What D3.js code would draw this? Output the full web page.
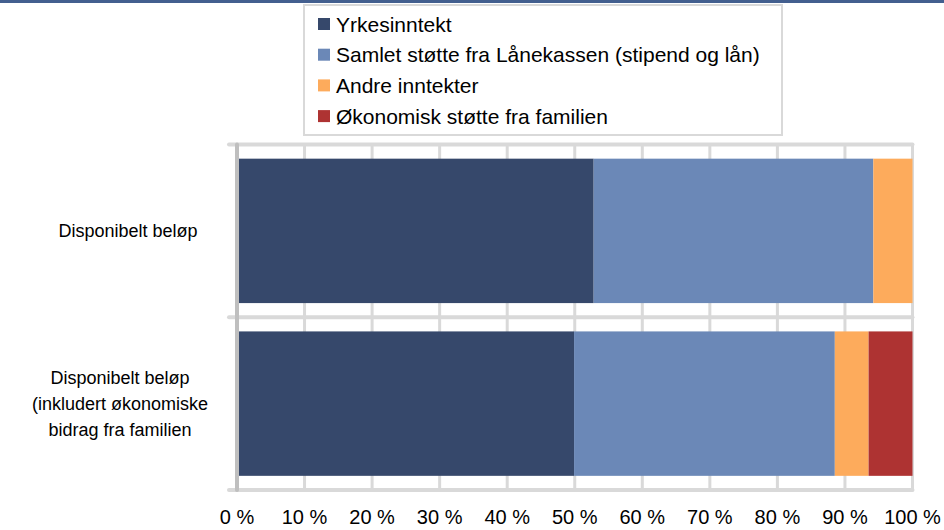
<!DOCTYPE html>
<html>
<head>
<meta charset="utf-8">
<script src="https://cdn.jsdelivr.net/npm/d3@7"></script>
<style>
  body { margin: 0; background: #fff; }
  text { font-family: "Liberation Sans", Arial, sans-serif; fill: #000; }
</style>
</head>
<body>
<div id="chart"></div>
<script>
var W = 944, H = 530;

// data
var categories = ["Disponibelt beløp", "Disponibelt beløp (inkludert økonomiske bidrag fra familien"];
var categoryLines = [
  ["Disponibelt beløp"],
  ["Disponibelt beløp", "(inkludert økonomiske", "bidrag fra familien"]
];
var seriesNames = ["Yrkesinntekt", "Samlet støtte fra Lånekassen (stipend og lån)", "Andre inntekter", "Økonomisk støtte fra familien"];
var yrkesinntekt = [52.8, 49.9];
var laanekassen = [41.4, 38.6];
var andre = [5.8, 5.0];
var familie = [0, 6.5];
var tickValues = [0, 10, 20, 30, 40, 50, 60, 70, 80, 90, 100];

var colors = ["#36486b", "#6b88b7", "#fdab5c", "#ae3332"];
var seriesValues = [yrkesinntekt, laanekassen, andre, familie];

var svg = d3.select("#chart").append("svg")
  .attr("width", W).attr("height", H);

// top band
svg.append("rect").attr("x", 0).attr("y", 0).attr("width", W).attr("height", 3)
  .attr("fill", "#435f8f");

var x = d3.scaleLinear().domain([0, 100]).range([237, 912.5]);
var yCat = d3.scaleBand().domain(categories).range([144.5, 490]);
var y = d3.scaleBand().domain(categories).range([144.5, 490])
  .paddingInner(0.164).paddingOuter(0.082);

// vertical gridlines
svg.selectAll(".vgrid").data(tickValues.slice(1)).enter().append("line")
  .attr("x1", function (d) { return x(d); }).attr("x2", function (d) { return x(d); })
  .attr("y1", 144.5).attr("y2", 490)
  .attr("stroke", "#d9d9d9").attr("stroke-width", 3).attr("stroke-linecap", "round");

// horizontal category lines
var bounds = categories.map(function (c) { return yCat(c); }).concat([490]);
svg.selectAll(".hgrid").data(bounds).enter().append("line")
  .attr("x1", 229).attr("x2", x(100))
  .attr("y1", function (d) { return d; }).attr("y2", function (d) { return d; })
  .attr("stroke", "#d9d9d9").attr("stroke-width", 4).attr("stroke-linecap", "round");

// stacked bars
var stackData = categories.map(function (c, i) {
  var o = { cat: c };
  seriesNames.forEach(function (s, j) { o[s] = seriesValues[j][i]; });
  return o;
});
var stack = d3.stack().keys(seriesNames)(stackData);

svg.selectAll(".series").data(stack).enter().append("g")
  .attr("fill", function (d, i) { return colors[i]; })
  .selectAll("rect").data(function (d) { return d; }).enter().append("rect")
  .attr("x", function (d) { return x(d[0]); })
  .attr("width", function (d) { return x(d[1]) - x(d[0]); })
  .attr("y", function (d) { return y(d.data.cat); })
  .attr("height", y.bandwidth());

// left axis line
svg.append("line").attr("x1", x(0)).attr("x2", x(0))
  .attr("y1", 144.5).attr("y2", 490)
  .attr("stroke", "#bfbfbf").attr("stroke-width", 4).attr("stroke-linecap", "round");

// x tick labels
svg.selectAll(".xlab").data(tickValues).enter().append("text")
  .attr("x", function (d) { return x(d); })
  .attr("y", 524)
  .attr("text-anchor", "middle")
  .style("font-size", "20px")
  .text(function (d) { return d + " %"; });

// category labels
var catLab = svg.selectAll(".catlab").data(categories).enter().append("text")
  .attr("text-anchor", "middle")
  .style("font-size", "18px")
  .attr("transform", function (d, i) {
    var n = categoryLines[i].length;
    var cy = yCat(d) + yCat.bandwidth() / 2 - (n - 1) * 26 / 2 + 6;
    return "translate(" + (i === 0 ? 128 : 120) + "," + cy + ")";
  });
catLab.selectAll("tspan").data(function (d, i) { return categoryLines[i]; }).enter().append("tspan")
  .attr("x", 0).attr("dy", function (d, i) { return i === 0 ? 0 : 26; })
  .text(function (d) { return d; });

// legend
var legend = svg.append("g");
legend.append("rect").attr("x", 304).attr("y", 5).attr("width", 478).attr("height", 130)
  .attr("fill", "#fff").attr("stroke", "#d9d9d9").attr("stroke-width", 2);
var items = legend.selectAll(".item").data(seriesNames).enter().append("g")
  .attr("transform", function (d, i) { return "translate(318," + (24 + i * 30.7) + ")"; });
items.append("rect").attr("x", 0).attr("y", -6).attr("width", 12).attr("height", 12)
  .attr("fill", function (d, i) { return colors[i]; });
items.append("text").attr("x", 18).attr("y", 7.5)
  .style("font-size", "21px")
  .text(function (d) { return d; });
</script>
</body>
</html>
